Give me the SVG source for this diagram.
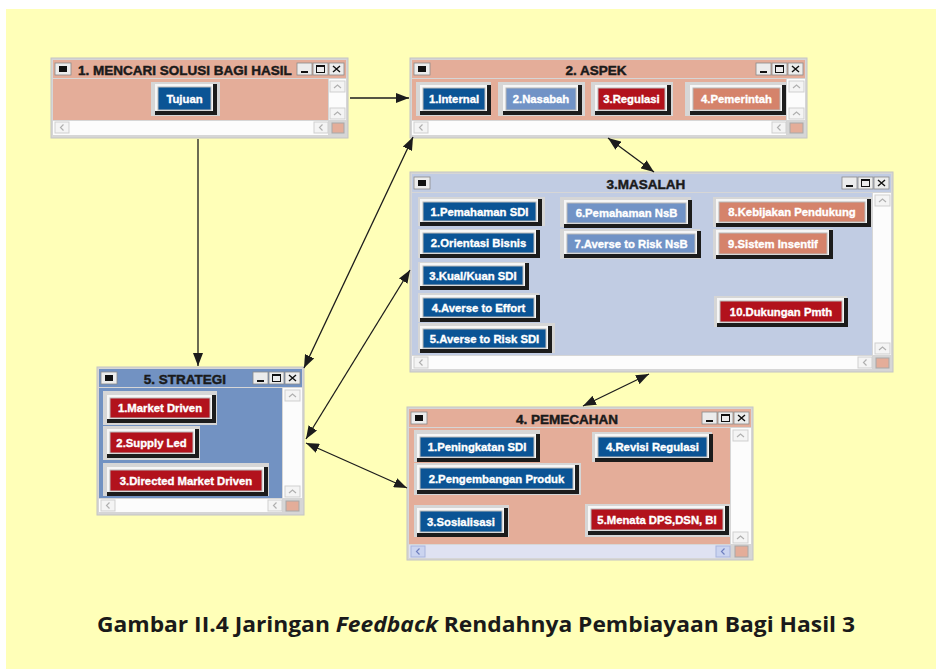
<svg xmlns="http://www.w3.org/2000/svg" xmlns:xlink="http://www.w3.org/1999/xlink" width="936" height="669" viewBox="0 0 936 669">
<style>
.bg{fill:#ffffb8}
.frame{fill:#d6d6d6;stroke:#c4c4c4;stroke-width:1}
.sal{fill:#e4ad99}
.msl{fill:#c1cce3}
.str{fill:#7292c2}
.wh{fill:#fcfcfc}
.hsb{fill:#dfe2f2}
.pad{fill:#d6d6d6}
.sh{fill:#1c1c1c}
.hl{fill:#f6f6f6}
.b1{fill:#0b5495;stroke:#b8b8b8;stroke-width:1}
.b2{fill:#7193c6;stroke:#b8b8b8;stroke-width:1}
.b3{fill:#b2121c;stroke:#b8b8b8;stroke-width:1}
.b4{fill:#d5836b;stroke:#b8b8b8;stroke-width:1}
.bt{font-family:"Liberation Sans",Arial,sans-serif;font-weight:bold;font-size:11.3px;fill:#ffffff;stroke:#ffffff;stroke-width:0.35;text-anchor:middle}
.tt{font-family:"Liberation Sans",Arial,sans-serif;font-weight:bold;font-size:13.5px;fill:#1a1a1a;stroke:#1a1a1a;stroke-width:0.45}
.sbtn{fill:#f4f4f4;stroke:#cfcfcf;stroke-width:1}
.sbtnb{fill:#cbd4f0;stroke:#a8b4dc;stroke-width:1}
.chev{fill:none;stroke:#b0b0b0;stroke-width:1.2}
.chevb{fill:none;stroke:#7080c0;stroke-width:1.2}
.corner{fill:#e4ad99;stroke:#a8a8a8;stroke-width:1}
.conn{fill:none;stroke:#1c1c1c;stroke-width:1.3}
.cap{font-family:"Open Sans","Noto Sans",sans-serif;font-weight:bold;font-size:22px;fill:#1a1a1a}
</style>
<defs>
<marker id="ah" markerUnits="userSpaceOnUse" markerWidth="14" markerHeight="10" refX="13" refY="5" orient="auto-start-reverse">
<path d="M0,0 L13,5 L0,10 z" fill="#1c1c1c"/>
</marker>
<g id="ctl">
<rect x="0" y="0" width="15" height="12" fill="#ececec" stroke="#8a8a8a" stroke-width="0.8"/>
<rect x="4" y="8" width="7" height="2" fill="#111"/>
<rect x="16" y="0" width="15" height="12" fill="#ececec" stroke="#8a8a8a" stroke-width="0.8"/>
<rect x="19.5" y="2.5" width="8" height="7" fill="none" stroke="#111" stroke-width="1"/>
<rect x="19.5" y="2.5" width="8" height="1.5" fill="#111"/>
<rect x="32" y="0" width="15" height="12" fill="#ececec" stroke="#8a8a8a" stroke-width="0.8"/>
<path d="M36,3 L43,9 M43,3 L36,9" stroke="#111" stroke-width="1.4"/>
</g>
<g id="sys">
<rect x="0" y="0" width="16" height="12" fill="#ececec" stroke="#8a8a8a" stroke-width="0.8"/>
<rect x="4" y="3" width="8" height="6" fill="#111"/>
</g>
<g id="up">
<rect x="0" y="0" width="15" height="11" class="sbtn"/>
<polyline points="4,7 7.5,4 11,7" class="chev"/>
</g>
<g id="lf">
<rect x="0" y="0" width="14" height="11" class="sbtn"/>
<polyline points="8.5,2.5 5.5,5.5 8.5,8.5" class="chev"/>
</g>
<g id="lfb">
<rect x="0" y="0" width="14" height="11" class="sbtnb"/>
<polyline points="8.5,2.5 5.5,5.5 8.5,8.5" class="chevb"/>
</g>
</defs>

<rect x="6" y="9" width="930" height="660" class="bg"/>

<!-- Window 1 -->
<g id="w1">
<rect x="51" y="58" width="297" height="80" class="frame"/>
<rect x="53" y="60" width="293" height="18" class="sal"/>
<rect x="53" y="79" width="275" height="41" class="sal"/>
<rect x="329" y="79" width="17" height="41" class="wh"/>
<use xlink:href="#up" x="330" y="81"/>
<use xlink:href="#up" x="330" y="108"/>
<rect x="53" y="121" width="275" height="14" class="wh"/>
<use xlink:href="#lf" x="55" y="122"/>
<use xlink:href="#lf" x="314" y="122"/>
<rect x="332" y="123" width="12" height="10" class="corner"/>
<use xlink:href="#sys" x="55" y="63"/>
<use xlink:href="#ctl" x="297" y="63"/>
<text x="78" y="75" class="tt">1. MENCARI SOLUSI BAGI HASIL</text>
<g id="w1b1">
<rect x="151" y="82" width="69" height="34" class="pad"/>
<rect x="155" y="84" width="62" height="31" class="sh"/>
<rect x="155" y="84" width="58" height="27" class="hl"/>
<rect x="158" y="87" width="53" height="23" class="b1"/>
<text x="184.5" y="102.5" class="bt">Tujuan</text>
</g>
</g>

<!-- Window 2 -->
<g id="w2">
<rect x="410" y="58" width="397" height="80" class="frame"/>
<rect x="412" y="60" width="393" height="18" class="sal"/>
<rect x="412" y="79" width="374" height="41" class="sal"/>
<rect x="787" y="79" width="18" height="41" class="wh"/>
<use xlink:href="#up" x="789" y="81"/>
<use xlink:href="#up" x="789" y="108"/>
<rect x="412" y="121" width="374" height="14" class="wh"/>
<use xlink:href="#lf" x="414" y="122"/>
<use xlink:href="#lf" x="772" y="122"/>
<rect x="790" y="123" width="13" height="10" class="corner"/>
<use xlink:href="#sys" x="414" y="63"/>
<use xlink:href="#ctl" x="756" y="63"/>
<text x="596" y="75" class="tt" text-anchor="middle">2. ASPEK</text>
<g id="w2b1">
<rect x="416" y="82" width="75" height="34" class="pad"/>
<rect x="420" y="85" width="71" height="30" class="sh"/>
<rect x="420" y="85" width="67" height="26" class="hl"/>
<rect x="423" y="88" width="62" height="22" class="b1"/>
<text x="454" y="103" class="bt">1.Internal</text>
</g>
<g id="w2b2">
<rect x="498" y="82" width="87" height="34" class="pad"/>
<rect x="503" y="85" width="79" height="30" class="sh"/>
<rect x="503" y="85" width="75" height="26" class="hl"/>
<rect x="506" y="88" width="70" height="22" class="b2"/>
<text x="541" y="103" class="bt">2.Nasabah</text>
</g>
<g id="w2b3">
<rect x="591" y="82" width="82" height="34" class="pad"/>
<rect x="595" y="85" width="76" height="30" class="sh"/>
<rect x="595" y="85" width="72" height="26" class="hl"/>
<rect x="598" y="88" width="67" height="22" class="b3"/>
<text x="631.5" y="103" class="bt">3.Regulasi</text>
</g>
<g id="w2b4">
<rect x="685" y="82" width="101" height="34" class="pad"/>
<rect x="690" y="85" width="96" height="30" class="sh"/>
<rect x="690" y="85" width="92" height="26" class="hl"/>
<rect x="693" y="88" width="87" height="22" class="b4"/>
<text x="736.5" y="103" class="bt">4.Pemerintah</text>
</g>
</g>

<!-- Window 3 -->
<g id="w3">
<rect x="410" y="172" width="483" height="200" class="frame"/>
<rect x="412" y="174" width="479" height="18" class="msl"/>
<rect x="412" y="193" width="460" height="162" class="msl"/>
<rect x="873" y="193" width="18" height="162" class="wh"/>
<use xlink:href="#up" x="875" y="195"/>
<use xlink:href="#up" x="875" y="343"/>
<rect x="412" y="356" width="460" height="13" class="wh"/>
<use xlink:href="#lf" x="414" y="357"/>
<use xlink:href="#lf" x="858" y="357"/>
<rect x="876" y="358" width="13" height="10" class="corner"/>
<use xlink:href="#sys" x="414" y="177"/>
<use xlink:href="#ctl" x="842" y="177"/>
<text x="646" y="189" class="tt" text-anchor="middle">3.MASALAH</text>
<g id="w3b1">
<rect x="418" y="197" width="127" height="29" class="pad"/>
<rect x="420" y="199" width="122" height="27" class="sh"/>
<rect x="420" y="199" width="118" height="23" class="hl"/>
<rect x="423" y="202" width="113" height="19" class="b1"/>
<text x="479.5" y="215.5" class="bt">1.Pemahaman SDI</text>
</g>
<g id="w3b2">
<rect x="418" y="229" width="120" height="29" class="pad"/>
<rect x="420" y="230" width="120" height="28" class="sh"/>
<rect x="420" y="230" width="116" height="24" class="hl"/>
<rect x="423" y="233" width="111" height="20" class="b1"/>
<text x="478.5" y="247" class="bt">2.Orientasi Bisnis</text>
</g>
<g id="w3b3">
<rect x="418" y="262" width="109" height="28" class="pad"/>
<rect x="420" y="263" width="109" height="27" class="sh"/>
<rect x="420" y="263" width="105" height="23" class="hl"/>
<rect x="423" y="266" width="100" height="19" class="b1"/>
<text x="473" y="279.5" class="bt">3.Kual/Kuan SDI</text>
</g>
<g id="w3b4">
<rect x="418" y="293" width="121" height="29" class="pad"/>
<rect x="420" y="295" width="120" height="27" class="sh"/>
<rect x="420" y="295" width="116" height="23" class="hl"/>
<rect x="423" y="298" width="111" height="19" class="b1"/>
<text x="478.5" y="311.5" class="bt">4.Averse to Effort</text>
</g>
<g id="w3b5">
<rect x="418" y="323" width="137" height="30" class="pad"/>
<rect x="420" y="326" width="132" height="27" class="sh"/>
<rect x="420" y="326" width="128" height="23" class="hl"/>
<rect x="423" y="329" width="123" height="19" class="b1"/>
<text x="484.5" y="342.5" class="bt">5.Averse to Risk SDI</text>
</g>
<g id="w3b6">
<rect x="560" y="197" width="131" height="30" class="pad"/>
<rect x="564" y="200" width="128" height="28" class="sh"/>
<rect x="564" y="200" width="124" height="24" class="hl"/>
<rect x="567" y="203" width="119" height="20" class="b2"/>
<text x="626.5" y="217" class="bt">6.Pemahaman NsB</text>
</g>
<g id="w3b7">
<rect x="560" y="229" width="140" height="30" class="pad"/>
<rect x="564" y="231" width="137" height="27" class="sh"/>
<rect x="564" y="231" width="133" height="23" class="hl"/>
<rect x="567" y="234" width="128" height="19" class="b2"/>
<text x="631" y="247.5" class="bt">7.Averse to Risk NsB</text>
</g>
<g id="w3b8">
<rect x="713" y="197" width="159" height="30" class="pad"/>
<rect x="716" y="199" width="155" height="28" class="sh"/>
<rect x="716" y="199" width="151" height="24" class="hl"/>
<rect x="719" y="202" width="146" height="20" class="b4"/>
<text x="792" y="216" class="bt">8.Kebijakan Pendukung</text>
</g>
<g id="w3b9">
<rect x="713" y="229" width="120" height="30" class="pad"/>
<rect x="716" y="230" width="117" height="29" class="sh"/>
<rect x="716" y="230" width="113" height="25" class="hl"/>
<rect x="719" y="233" width="108" height="21" class="b4"/>
<text x="773" y="247.5" class="bt">9.Sistem Insentif</text>
</g>
<g id="w3b10">
<rect x="714" y="296" width="133" height="31" class="pad"/>
<rect x="717" y="298" width="131" height="29" class="sh"/>
<rect x="717" y="298" width="127" height="25" class="hl"/>
<rect x="720" y="301" width="122" height="21" class="b3"/>
<text x="781" y="315.5" class="bt">10.Dukungan Pmth</text>
</g>
</g>

<!-- Window 5 -->
<g id="w5">
<rect x="97" y="367" width="207" height="148" class="frame"/>
<rect x="99" y="369" width="203" height="18" class="str"/>
<rect x="99" y="388" width="183" height="110" class="str"/>
<rect x="283" y="388" width="19" height="110" class="wh"/>
<use xlink:href="#up" x="285" y="390"/>
<use xlink:href="#up" x="285" y="486"/>
<rect x="99" y="499" width="183" height="13" class="wh"/>
<use xlink:href="#lf" x="101" y="500"/>
<use xlink:href="#lf" x="268" y="500"/>
<rect x="286" y="501" width="13" height="10" class="corner"/>
<use xlink:href="#sys" x="101" y="372"/>
<use xlink:href="#ctl" x="253" y="372"/>
<text x="185" y="384" class="tt" text-anchor="middle">5. STRATEGI</text>
<g id="w5b1">
<rect x="103" y="391" width="114" height="34" class="pad"/>
<rect x="107" y="395" width="109" height="28" class="sh"/>
<rect x="107" y="395" width="105" height="24" class="hl"/>
<rect x="110" y="398" width="100" height="20" class="b3"/>
<text x="160" y="412" class="bt">1.Market Driven</text>
</g>
<g id="w5b2">
<rect x="103" y="426" width="97" height="34" class="pad"/>
<rect x="107" y="429" width="92" height="29" class="sh"/>
<rect x="107" y="429" width="88" height="25" class="hl"/>
<rect x="110" y="432" width="83" height="21" class="b3"/>
<text x="151.5" y="446.5" class="bt">2.Supply Led</text>
</g>
<g id="w5b3">
<rect x="103" y="463" width="166" height="33" class="pad"/>
<rect x="107" y="467" width="161" height="29" class="sh"/>
<rect x="107" y="467" width="157" height="25" class="hl"/>
<rect x="110" y="470" width="152" height="21" class="b3"/>
<text x="186" y="484.5" class="bt">3.Directed Market Driven</text>
</g>
</g>

<!-- Window 4 -->
<g id="w4">
<rect x="407" y="407" width="346" height="153" class="frame"/>
<rect x="409" y="409" width="342" height="18" class="sal"/>
<rect x="409" y="428" width="321" height="116" class="sal"/>
<rect x="731" y="428" width="20" height="116" class="wh"/>
<use xlink:href="#up" x="733" y="430"/>
<use xlink:href="#up" x="733" y="532"/>
<rect x="409" y="545" width="321" height="13" class="hsb"/>
<use xlink:href="#lfb" x="411" y="546"/>
<use xlink:href="#lfb" x="716" y="546"/>
<rect x="735" y="546" width="13" height="11" class="corner"/>
<use xlink:href="#sys" x="411" y="412"/>
<use xlink:href="#ctl" x="702" y="412"/>
<text x="567" y="424" class="tt" text-anchor="middle">4. PEMECAHAN</text>
<g id="w4b1">
<rect x="414" y="430" width="126" height="32" class="pad"/>
<rect x="417" y="434" width="123" height="28" class="sh"/>
<rect x="417" y="434" width="119" height="24" class="hl"/>
<rect x="420" y="437" width="114" height="20" class="b1"/>
<text x="477" y="451" class="bt">1.Peningkatan SDI</text>
</g>
<g id="w4b2">
<rect x="414" y="463" width="167" height="32" class="pad"/>
<rect x="417" y="465" width="162" height="29" class="sh"/>
<rect x="417" y="465" width="158" height="25" class="hl"/>
<rect x="420" y="468" width="153" height="21" class="b1"/>
<text x="496.5" y="482.5" class="bt">2.Pengembangan Produk</text>
</g>
<g id="w4b3">
<rect x="414" y="505" width="95" height="32" class="pad"/>
<rect x="417" y="508" width="91" height="29" class="sh"/>
<rect x="417" y="508" width="87" height="25" class="hl"/>
<rect x="420" y="511" width="82" height="21" class="b1"/>
<text x="461" y="525.5" class="bt">3.Sosialisasi</text>
</g>
<g id="w4b4">
<rect x="592" y="432" width="120" height="30" class="pad"/>
<rect x="595" y="434" width="118" height="28" class="sh"/>
<rect x="595" y="434" width="114" height="24" class="hl"/>
<rect x="598" y="437" width="109" height="20" class="b1"/>
<text x="652.5" y="451" class="bt">4.Revisi Regulasi</text>
</g>
<g id="w4b5">
<rect x="585" y="504" width="145" height="33" class="pad"/>
<rect x="588" y="506" width="141" height="29" class="sh"/>
<rect x="588" y="506" width="137" height="25" class="hl"/>
<rect x="591" y="509" width="132" height="21" class="b3"/>
<text x="657" y="523.5" class="bt">5.Menata DPS,DSN, BI</text>
</g>
</g>

<!-- Connectors -->
<g id="connectors">
<line x1="350" y1="98" x2="409" y2="98" class="conn" marker-end="url(#ah)"/>
<line x1="198" y1="139" x2="198" y2="366" class="conn" marker-end="url(#ah)"/>
<line x1="608" y1="138" x2="654" y2="172" class="conn" marker-start="url(#ah)" marker-end="url(#ah)"/>
<line x1="413" y1="137" x2="304" y2="368" class="conn" marker-start="url(#ah)" marker-end="url(#ah)"/>
<line x1="410" y1="270" x2="306" y2="439" class="conn" marker-start="url(#ah)" marker-end="url(#ah)"/>
<line x1="649" y1="374" x2="583" y2="406" class="conn" marker-start="url(#ah)" marker-end="url(#ah)"/>
<line x1="306" y1="443" x2="407" y2="488" class="conn" marker-start="url(#ah)" marker-end="url(#ah)"/>
</g>

<text x="97" y="632" class="cap" textLength="758" lengthAdjust="spacingAndGlyphs">Gambar II.4 Jaringan <tspan font-style="italic">Feedback</tspan> Rendahnya Pembiayaan Bagi Hasil 3</text>
</svg>
